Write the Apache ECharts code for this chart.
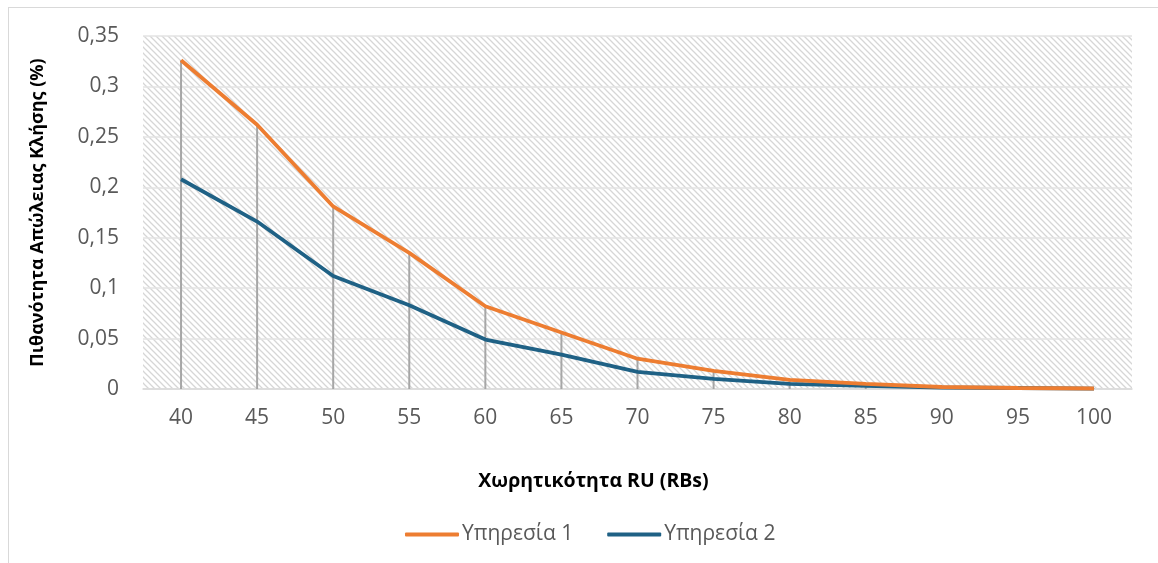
<!DOCTYPE html>
<html>
<head>
<meta charset="utf-8">
<script src="https://cdn.jsdelivr.net/npm/echarts@6/dist/echarts.min.js"></script>
<style>
html,body{margin:0;padding:0;background:#fff;overflow:hidden;}
#frame{position:absolute;left:8px;top:7px;width:1300px;height:700px;border:1px solid #d9d9d9;box-sizing:border-box;}
#chart{position:absolute;left:0;top:0;width:1158px;height:563px;}
</style>
</head>
<body>
<div id="frame"></div>
<div id="chart"></div>
<script>
const categories = ['40','45','50','55','60','65','70','75','80','85','90','95','100'];
const service1 = [0.326,0.262,0.181,0.135,0.082,0.056,0.030,0.018,0.009,0.005,0.002,0.001,0.0005];
const service2 = [0.208,0.166,0.112,0.083,0.049,0.034,0.017,0.010,0.005,0.003,0.0015,0.001,0.0003];
const seriesNames = ['Υπηρεσία 1','Υπηρεσία 2'];
const xTitle = 'Χωρητικότητα RU (RBs)';
const yTitle = 'Πιθανότητα Απώλειας Κλήσης (%)';

const pc = document.createElement('canvas');
pc.width = 6; pc.height = 6;
const ctx = pc.getContext('2d');
ctx.fillStyle = '#ffffff';
ctx.fillRect(0,0,6,6);
ctx.strokeStyle = '#d6d6d6';
ctx.lineWidth = 1.3;
ctx.beginPath();
ctx.moveTo(-1,-1); ctx.lineTo(7,7);
ctx.moveTo(-7,-1); ctx.lineTo(1,7);
ctx.moveTo(5,-1); ctx.lineTo(13,7);
ctx.stroke();

const chart = echarts.init(document.getElementById('chart'), null, {renderer:'canvas'});
const font = 'Open Sans';
chart.setOption({
  animation:false,
  textStyle:{fontFamily:font},
  grid:{left:143,right:26,top:36,bottom:174,show:true,borderWidth:0,
        backgroundColor:{image:pc,repeat:'repeat'}},
  legend:{
    data:seriesNames,
    icon:'roundRect',
    bottom:13,left:400,
    itemWidth:54,itemHeight:4,itemGap:34,
    textStyle:{fontSize:21,color:'#595959',fontFamily:font,padding:[0,0,0,-2]}
  },
  xAxis:{
    type:'category',data:categories,boundaryGap:true,
    name:xTitle,nameLocation:'middle',nameGap:82,
    nameTextStyle:{fontSize:19.5,fontWeight:'bold',color:'#000',fontFamily:font,padding:[0,88,0,0]},
    axisLine:{lineStyle:{color:'#d9d9d9',width:1.5}},
    axisTick:{show:false},
    axisLabel:{fontSize:21,color:'#595959',margin:19,fontFamily:font}
  },
  yAxis:{
    type:'value',min:0,max:0.35,interval:0.05,
    name:yTitle,nameLocation:'middle',nameGap:96,
    nameTextStyle:{fontSize:18,fontWeight:'bold',color:'#000',fontFamily:font},
    axisLine:{show:false},axisTick:{show:false},
    splitLine:{lineStyle:{color:'#e3e3e3',width:1.5}},
    axisLabel:{fontSize:21,color:'#595959',margin:24,fontFamily:font,
      formatter:v=>String(+v.toFixed(2)).replace('.',',')}
  },
  series:[
    {name:'drop',type:'bar',data:service1,barWidth:2,
     itemStyle:{color:'#a6a6a6'},z:1,silent:true},
    {name:seriesNames[0],type:'line',data:service1,symbol:'none',
     lineStyle:{color:'#ed7d31',width:3.8},itemStyle:{color:'#ed7d31'},z:3},
    {name:seriesNames[1],type:'line',data:service2,symbol:'none',
     lineStyle:{color:'#1f6185',width:3.8},itemStyle:{color:'#1f6185'},z:2}
  ]
});
</script>
</body>
</html>
